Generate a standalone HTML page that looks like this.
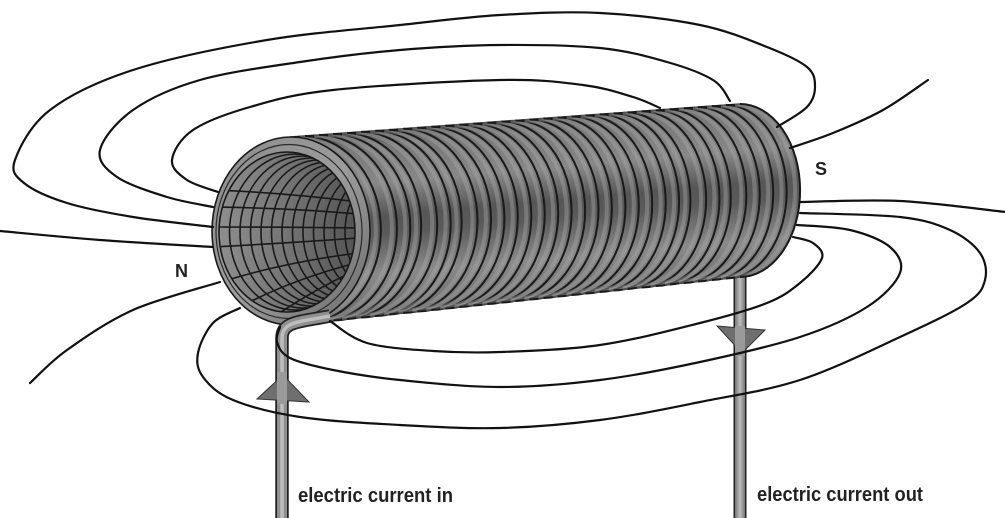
<!DOCTYPE html>
<html><head><meta charset="utf-8">
<style>html,body{margin:0;padding:0;background:#fff;overflow:hidden}svg{display:block}</style>
</head><body>
<svg id="s" width="1005" height="518" viewBox="0 0 1005 518" xmlns="http://www.w3.org/2000/svg">
<defs>
<linearGradient id="body" gradientUnits="userSpaceOnUse" x1="507" y1="121" x2="523" y2="301">
 <stop offset="0" stop-color="#555"/>
 <stop offset="0.07" stop-color="#777"/>
 <stop offset="0.28" stop-color="#888"/>
 <stop offset="0.46" stop-color="#565656"/>
 <stop offset="0.56" stop-color="#5a5a5a"/>
 <stop offset="0.78" stop-color="#8a8a8a"/>
 <stop offset="0.94" stop-color="#747474"/>
 <stop offset="1" stop-color="#555"/>
</linearGradient>
<linearGradient id="ring" x1="0" y1="0" x2="1" y2="1">
 <stop offset="0" stop-color="#8a8a8a"/>
 <stop offset="0.5" stop-color="#9c9c9c"/>
 <stop offset="1" stop-color="#6a6a6a"/>
</linearGradient>
<linearGradient id="inner" x1="0" y1="0" x2="1" y2="0">
 <stop offset="0" stop-color="#8e8e8e"/>
 <stop offset="0.5" stop-color="#747474"/>
 <stop offset="1" stop-color="#555"/>
</linearGradient>
<linearGradient id="wire" x1="0" y1="0" x2="1" y2="0">
 <stop offset="0" stop-color="#777"/>
 <stop offset="0.5" stop-color="#bdbdbd"/>
 <stop offset="1" stop-color="#777"/>
</linearGradient>
<clipPath id="open"><ellipse cx="287" cy="232" rx="68" ry="80"/></clipPath>
</defs>

<!-- right wire (behind coil) -->
<rect x="733.5" y="268" width="13" height="252" fill="#222"/>
<rect x="735" y="268" width="10" height="252" fill="url(#wire)"/>

<!-- coil body -->
<path d="M291,137 L740,104 A60,86.5 0 0 1 740,277 L291,325 Z" fill="url(#body)" stroke="#1a1a1a" stroke-width="1.6"/>
<g id="turns"></g>

<!-- left end ring -->
<ellipse cx="291" cy="231" rx="79" ry="94" fill="url(#ring)" stroke="#1a1a1a" stroke-width="1.6"/>
<ellipse cx="289" cy="231.5" rx="73" ry="87" fill="none" stroke="#2a2a2a" stroke-width="1.2"/>
<ellipse cx="287" cy="232" rx="68" ry="80" fill="url(#inner)" stroke="#1a1a1a" stroke-width="1.6"/>
<g id="inside" clip-path="url(#open)" fill="none" stroke="#1a1a1a" stroke-width="1.6"></g>

<!-- left wire -->
<path d="M330,316 C300,322 282,321 282,338 L282,520" fill="none" stroke="#222" stroke-width="13.5"/>
<path d="M330,316 C300,322 282,321 282,338 L282,520" fill="none" stroke="#8f8f8f" stroke-width="10"/>
<path d="M330,316 C300,322 282,321 282,338 L282,520" fill="none" stroke="#bdbdbd" stroke-width="3.5"/>

<!-- arrows -->
<polygon points="283,375 257,399 309,402" fill="#6f6f6f" stroke="#333" stroke-width="1"/>
<polygon points="717,326 765,330 742,353" fill="#6f6f6f" stroke="#333" stroke-width="1"/>
<rect x="277" y="372" width="10" height="32" fill="#9a9a9a"/>
<rect x="735" y="326" width="10" height="30" fill="#9a9a9a"/>

<g id="lines" fill="none" stroke="#111" stroke-width="2.2" stroke-linecap="round"></g>

<g font-family="'Liberation Sans', Arial, sans-serif" font-weight="bold" fill="#222">
 <text x="298" y="502" font-size="20" textLength="155" lengthAdjust="spacingAndGlyphs">electric current in</text>
 <text x="757" y="501" font-size="20" textLength="166" lengthAdjust="spacingAndGlyphs">electric current out</text>
 <text x="175" y="277" font-size="18">N</text>
 <text x="815" y="175" font-size="18">S</text>
</g>
</svg>
<script>
(function(){
var NS="http://www.w3.org/2000/svg";
function cr(p){var d="M"+p[0][0]+","+p[0][1];for(var i=0;i<p.length-1;i++){var p0=p[i-1]||p[i],p1=p[i],p2=p[i+1],p3=p[i+2]||p2;
var c1x=p1[0]+(p2[0]-p0[0])/6,c1y=p1[1]+(p2[1]-p0[1])/6,c2x=p2[0]-(p3[0]-p1[0])/6,c2y=p2[1]-(p3[1]-p1[1])/6;
d+=" C"+c1x.toFixed(1)+","+c1y.toFixed(1)+" "+c2x.toFixed(1)+","+c2y.toFixed(1)+" "+p2[0]+","+p2[1];}return d;}
function add(g,d,attrs){var e=document.createElementNS(NS,"path");e.setAttribute("d",d);if(attrs)for(var k in attrs)e.setAttribute(k,attrs[k]);g.appendChild(e);return e;}
var tg=document.getElementById("turns");
for(var k=1;k<=32;k++){
 var x=291+k*14.03; var yt=137-0.0735*(x-291); var yb=325-0.107*(x-291);
 var rx=79-0.042*(x-291); var ry=(yb-yt)/2;
 var hx=x-5;
 add(tg,"M"+hx.toFixed(1)+","+(yt+1).toFixed(1)+" A"+rx.toFixed(1)+","+(ry-1).toFixed(1)+" 0 0 1 "+hx.toFixed(1)+","+(yb-1).toFixed(1),{fill:"none",stroke:"#a9a9a9","stroke-width":"4","stroke-opacity":"0.4"});
 add(tg,"M"+x.toFixed(1)+","+yt.toFixed(1)+" A"+rx.toFixed(1)+","+ry.toFixed(1)+" 0 0 1 "+x.toFixed(1)+","+yb.toFixed(1),{fill:"none",stroke:"#1a1a1a","stroke-width":"2"});
}
var ig=document.getElementById("inside");
for(var k=1;k<=12;k++){
 var e=document.createElementNS(NS,"ellipse");
 e.setAttribute("cx",287+8*k);e.setAttribute("cy",232);e.setAttribute("rx",68-2.5*k);e.setAttribute("ry",80-2*k);
 ig.appendChild(e);
}
var ins=[[[214,190],[290,193],[358,202]],[[212,207],[290,208],[358,214]],[[212,227],[290,227],[358,228]],[[212,247],[290,243],[358,238]],[[218,283],[280,263],[358,253]],[[238,308],[290,280],[356,263]],[[272,318],[310,292],[352,272]]];
ins.forEach(function(l){add(ig,"M"+l[0][0]+","+l[0][1]+" Q"+l[1][0]+","+l[1][1]+" "+l[2][0]+","+l[2][1]);});
var lg=document.getElementById("lines");
var L=[
 [[213,227],[133,217],[67,203],[24,183],[15,160],[50,110],[133,70],[267,40],[400,25],[500,15],[600,13],[700,25],[767,47],[807,67],[815,87],[807,107],[777,127]],
 [[213,207],[167,197],[117,177],[100,150],[133,110],[200,80],[300,62],[400,50],[500,45],[600,48],[667,62],[713,80],[730,101]],
 [[218,192],[187,180],[172,160],[193,130],[250,107],[333,90],[500,80],[583,85],[633,97],[660,108]],
 [[0,231],[100,240],[213,247]],
 [[220,282],[133,310],[67,350],[30,383]],
 [[240,308],[213,323],[198,353],[203,377],[233,400],[300,417],[400,425],[500,428],[600,420],[700,402],[800,380],[900,337],[967,303],[985,280],[980,253],[950,230],[900,217],[800,213]],
 [[280,327],[277,342],[290,358],[333,370],[400,380],[500,387],[600,380],[700,362],[800,337],[867,307],[900,273],[890,247],[850,230],[797,225]],
 [[330,321],[367,343],[433,351],[500,352],[600,345],[700,323],[767,303],[800,283],[822,258],[813,243],[793,237]],
 [[800,202],[900,201],[1006,212]],
 [[790,148],[833,133],[883,110],[928,80]]
];
L.forEach(function(p){add(lg,cr(p));});
})();
</script>
</body></html>
